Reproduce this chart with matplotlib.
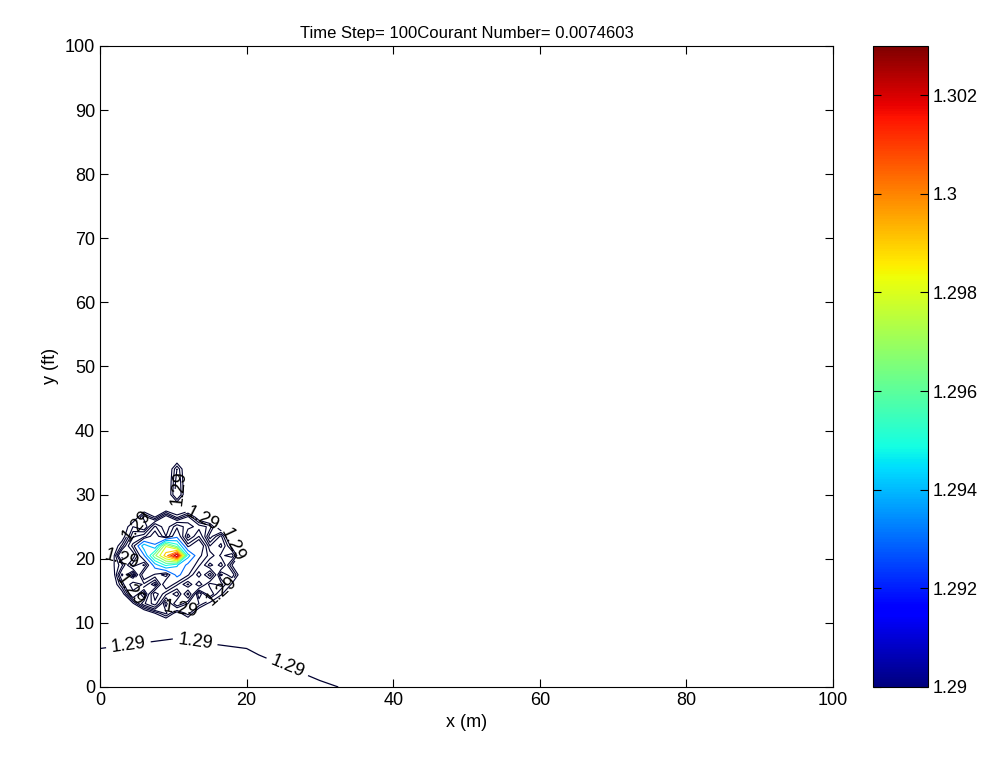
import numpy as np
import matplotlib
matplotlib.use("Agg")
import matplotlib.pyplot as plt
from matplotlib.colors import Normalize

plt.rcParams["font.family"] = ["Liberation Sans", "DejaVu Sans"]

# --- data ---------------------------------------------------------------- #
# background field (values in thousandths above 1.29)
bg_x = [0, 10, 20, 30, 40, 100]
bg_y = [0, 5, 10, 100]
bg_excess = [
    [-1.0, -1.0, -1.0, -0.25, 0.75, 0.8],
    [-0.2, -0.5, -0.2, 1.0, 0.8, 0.8],
    [0.8, 0.5, 0.8, 0.8, 0.8, 0.8],
    [0.8, 0.8, 0.8, 0.8, 0.8, 0.8],
]

# noisy blob near (10, 20), thousandths above 1.29
blob_x = [1.5, 3, 4.5, 6, 7.5, 9, 10.5, 12, 13.5, 15, 16.5, 18, 19.5]
blob_y = [10, 11.5, 13, 14.5, 16, 17.5, 19, 20.5, 22, 23.5, 25, 26.5, 28,
          30, 32, 34, 36]
blob_excess = [
    [-1, -1, -1, -1, -1, -1, -1, -1, -1, -1, -1, -1, -1],
    [-1, -1, -1, -1, -0.3, 0.4, -0.6, 0.2, -1, -1, -1, -1, -1],
    [-1, -1, -0.4, 0.9, 1.8, -0.2, 1.5, 0.6, 0.3, -0.5, -1, -1, -1],
    [-1, -0.6, 1.2, -0.1, 2.4, 1.1, 0.3, 2.2, -0.3, 1.0, -0.2, -1, -1],
    [-1, 0.3, 2.0, 1.4, 0.2, 2.8, 1.6, 0.5, 1.9, 0.4, 0.8, -0.4, -1],
    [-1, 1.1, -0.2, 2.6, 1.9, 1.2, 3.4, 2.1, 0.7, 2.3, -0.1, 0.6, -1],
    [-0.5, 0.2, 1.8, 0.9, 3.5, 5.2, 4.1, 2.7, 1.6, 0.4, 1.2, -0.3, -1],
    [-1, 1.4, 0.6, 2.9, 6.8, 9.5, 13.0, 4.4, 2.2, 1.3, 0.5, 0.8, -1],
    [-1, 0.1, 1.7, 4.6, 3.1, 7.9, 5.5, 1.8, 3.0, 0.6, 1.1, -0.2, -1],
    [-1, -0.7, 0.9, 1.3, 2.5, 1.0, 2.7, 0.4, 1.5, -0.2, 0.7, -1, -1],
    [-1, -1, 0.3, -0.2, 1.6, 0.6, 1.9, 1.2, 0.8, 0.5, -1, -1, -1],
    [-1, -1, -1, 0.5, -0.3, 0.9, -0.1, 0.7, -0.4, -1, -1, -1, -1],
    [-1, -1, -1, -1, -1, -1, -1, -1, -1, -1, -1, -1, -1],
    [-1, -1, -1, -1, -1, -1, 0.6, -1, -1, -1, -1, -1, -1],
    [-1, -1, -1, -1, -1, -1, 0.5, -1, -1, -1, -1, -1, -1],
    [-1, -1, -1, -1, -1, -1, 0.3, -1, -1, -1, -1, -1, -1],
    [-1, -1, -1, -1, -1, -1, -1, -1, -1, -1, -1, -1, -1],
]

base = 1.29
low_levels = [1.2897, 1.29, 1.2903, 1.2906, 1.291, 1.2915, 1.292]
high_levels = [1.293, 1.294, 1.295, 1.296, 1.297, 1.298, 1.299,
               1.300, 1.301, 1.302]
cbar_ticks = [1.29, 1.292, 1.294, 1.296, 1.298, 1.300, 1.302]
clim = (1.29, 1.303)
title = "Time Step= 100Courant Number= 0.0074603"

DARK = "#000030"  # low contour levels render nearly black

# --- figure -------------------------------------------------------------- #
fig = plt.figure(figsize=(10.01, 7.65), dpi=100)
ax = fig.add_axes([0.0999, 0.102, 0.7323, 0.838])
cax = fig.add_axes([0.872, 0.102, 0.055, 0.838])

norm = Normalize(*clim)
Zbg = base + np.array(bg_excess) / 1000.0
Zb = base + np.array(blob_excess) / 1000.0

cs_bg = ax.contour(bg_x, bg_y, Zbg, levels=[1.29], colors=DARK,
                   linewidths=0.9)
ax.clabel(cs_bg, fmt="%.3g", fontsize=13, colors="k",
          manual=[(4, 5.5), (13, 7.2), (25.5, 3)])

cs_hi = ax.contour(blob_x, blob_y, Zb, levels=high_levels, cmap="jet",
                   norm=norm, linewidths=0.8)
cs_lo = ax.contour(blob_x, blob_y, Zb, levels=low_levels, colors=DARK,
                   linewidths=0.8)
ax.clabel(cs_lo, fmt="%.3g", fontsize=13, colors="k", inline=True,
          inline_spacing=1,
          manual=[(5, 25), (14, 26.5), (18, 22), (16.5, 15), (4, 15),
                  (3, 20), (10.5, 31), (11, 12)])

ax.set_xlim(0, 100)
ax.set_ylim(0, 100)
ax.set_xticks(range(0, 101, 20))
ax.set_yticks(range(0, 101, 10))
ax.tick_params(direction="in", top=True, right=True, labelsize=13,
               length=6, width=0.8)
ax.set_xlabel("x (m)", fontsize=13)
ax.set_ylabel("y (ft)", fontsize=13)
ax.set_title(title, fontsize=12)

sm = plt.cm.ScalarMappable(norm=norm, cmap="jet")
cb = fig.colorbar(sm, cax=cax, ticks=cbar_ticks)
cb.ax.set_yticklabels([f"{t:g}" for t in cbar_ticks])
cax.tick_params(direction="in", left=True, right=True, labelsize=13,
                length=6, width=0.8)

fig.savefig("out.png", dpi=100)
